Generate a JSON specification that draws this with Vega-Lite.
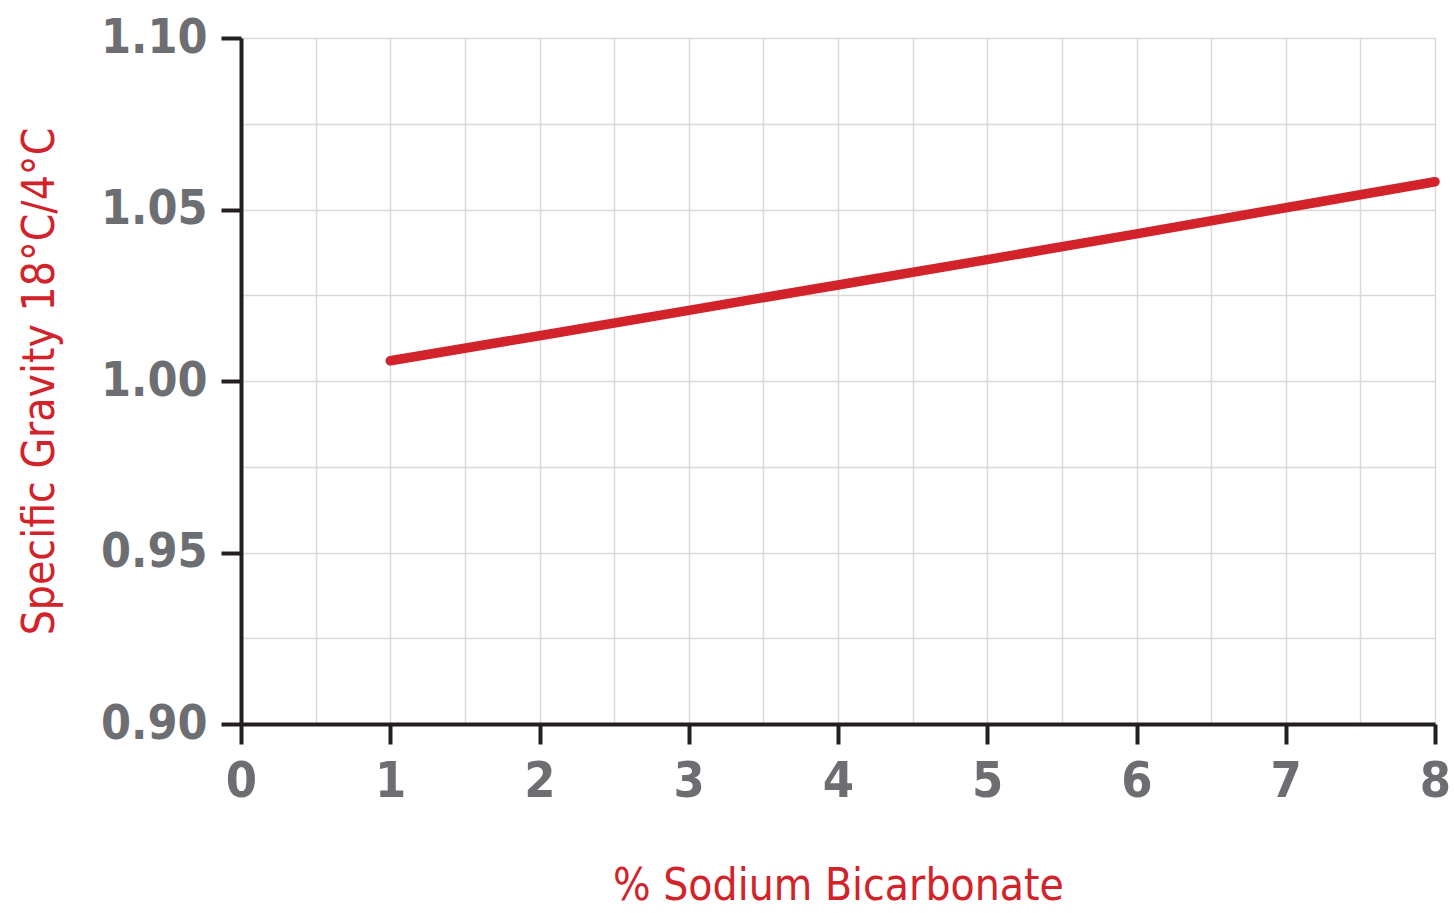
{
  "$schema": "https://vega.github.io/schema/vega-lite/v6.json",
  "width": 1194,
  "height": 686,
  "autosize": {"type": "none"},
  "padding": {"left": 241, "top": 38, "right": 19, "bottom": 189},
  "background": "white",
  "config": {
    "view": {"stroke": null},
    "axis": {
      "labelFont": "DejaVu Sans Condensed, Roboto, sans-serif",
      "labelFontWeight": "bold",
      "labelColor": "#6d6e71",
      "titleFont": "DejaVu Sans Condensed, Roboto, sans-serif",
      "titleFontWeight": "normal",
      "titleColor": "#d2232a",
      "domainColor": "#231f20",
      "domainWidth": 4,
      "tickColor": "#231f20",
      "tickWidth": 4,
      "tickSize": 20,
      "gridColor": "#d9d9d9",
      "gridWidth": 1.5
    }
  },
  "data": {
    "values": [
      {"pct": 1, "sg": 1.0059},
      {"pct": 2, "sg": 1.0132},
      {"pct": 3, "sg": 1.0206},
      {"pct": 4, "sg": 1.0280},
      {"pct": 5, "sg": 1.0354},
      {"pct": 6, "sg": 1.0429},
      {"pct": 7, "sg": 1.0505},
      {"pct": 8, "sg": 1.0581}
    ]
  },
  "mark": {"type": "line", "color": "#d2232a", "strokeWidth": 9.5, "strokeCap": "round", "strokeJoin": "round"},
  "encoding": {
    "x": {
      "field": "pct",
      "type": "quantitative",
      "scale": {"domain": [0, 8], "nice": false},
      "axis": {
        "title": "% Sodium Bicarbonate",
        "titleFontSize": 44,
        "titlePadding": 58,
        "labelFontSize": 50,
        "labelPadding": 12,
        "values": [0, 0.5, 1, 1.5, 2, 2.5, 3, 3.5, 4, 4.5, 5, 5.5, 6, 6.5, 7, 7.5, 8],
        "labelExpr": "datum.value % 1 === 0 ? format(datum.value, 'd') : ''",
        "tickOpacity": {"condition": {"test": "datum.value % 1 !== 0", "value": 0}, "value": 1},
        "labelFlush": false
      }
    },
    "y": {
      "field": "sg",
      "type": "quantitative",
      "scale": {"domain": [0.9, 1.1], "nice": false, "zero": false},
      "axis": {
        "title": "Specific Gravity 18°C/4°C",
        "titleFontSize": 44,
        "titlePadding": 38,
        "labelFontSize": 48,
        "labelPadding": 14,
        "values": [0.9, 0.925, 0.95, 0.975, 1.0, 1.025, 1.05, 1.075, 1.1],
        "labelExpr": "abs(datum.value * 20 - round(datum.value * 20)) < 0.001 ? format(datum.value, '.2f') : ''",
        "tickOpacity": {"condition": {"test": "abs(datum.value * 20 - round(datum.value * 20)) > 0.001", "value": 0}, "value": 1},
        "labelFlush": false
      }
    }
  }
}
